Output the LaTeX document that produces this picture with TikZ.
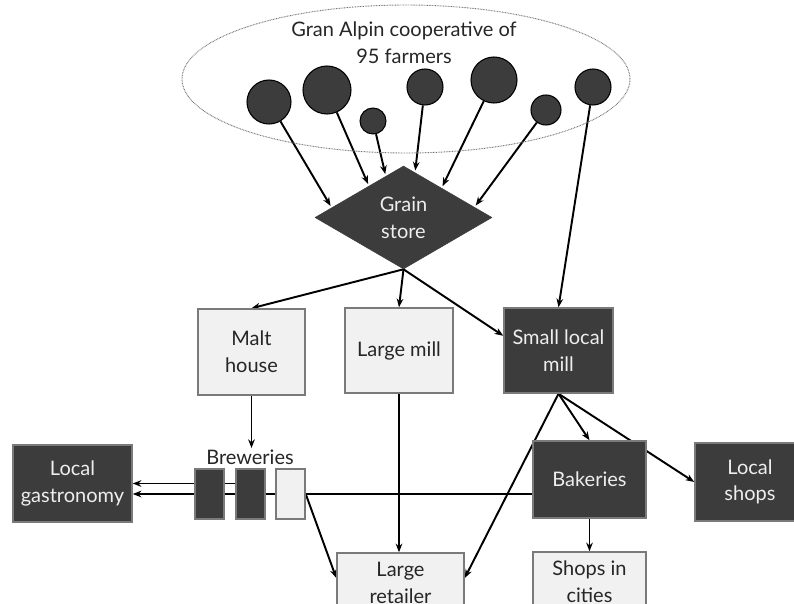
\documentclass[tikz,border=0pt]{standalone}
\usepackage{fontspec}
\setmainfont{Lato}
\usetikzlibrary{shapes.geometric,arrows.meta,calc,backgrounds}
\definecolor{darkfill}{HTML}{3C3C3C}
\definecolor{lightfill}{HTML}{F1F1F1}
\definecolor{edgegray}{HTML}{7A7A7A}
\definecolor{darktext}{HTML}{EEEEEE}
\begin{document}
\begin{tikzpicture}[x=0.75pt,y=-0.75pt,
  font=\fontsize{15}{20}\selectfont,
  box/.style={rectangle, draw=edgegray, line width=1.1pt, align=center, inner sep=2pt},
  lightbox/.style={box, fill=lightfill, text=black!85},
  darkbox/.style={box, fill=darkfill, text=darktext},
  farmer/.style={circle, draw=black, line width=0.8pt, fill=darkfill, inner sep=0pt},
  flow/.style={line width=1.45pt, -{Stealth[length=6.5pt,width=5pt]}},
  brew/.style={minimum width=21.75pt, minimum height=37.5pt, inner sep=0pt}
]
\useasboundingbox (0,0) rectangle (794,604);

% cooperative
\node (coop) [ellipse, draw=black!55, dash pattern=on 0.6pt off 0.6pt, line width=0.7pt,
  minimum width=336pt, minimum height=111pt] at (406,79) {};
\node (cooplabel) [align=center, text=black!85] at (404,43) {Gran Alpin cooperative of\\95 farmers};

\node (c1) [farmer, minimum size=33pt] at (269,102) {};
\node (c2) [farmer, minimum size=36pt] at (327,90) {};
\node (c3) [farmer, minimum size=19.5pt] at (373,121) {};
\node (c4) [farmer, minimum size=27pt] at (425,87) {};
\node (c5) [farmer, minimum size=34.5pt] at (494,80) {};
\node (c6) [farmer, minimum size=22.5pt] at (546,110) {};
\node (c7) [farmer, minimum size=27pt] at (593,87) {};

\node (grain) [diamond, fill=darkfill, draw=darkfill, minimum width=132.75pt, minimum height=77.25pt,
  inner sep=0pt, text=darktext, align=center] at (403.5,217.5) {Grain\\store};

\node (malt) [lightbox, minimum width=80.25pt, minimum height=64.5pt] at (251.5,352) {Malt\\house};
\node (lmill) [lightbox, minimum width=81pt, minimum height=63.75pt] at (399,350.5) {Large mill};
\node (smill) [darkbox, minimum width=81.75pt, minimum height=63.75pt] at (558.5,350.5) {Small local\\mill};

\node (gastro) [darkbox, minimum width=89.25pt, minimum height=57.75pt] at (72.5,483.5) {Local\\gastronomy};
\node (brewlabel) [inner sep=1pt, text=black!85] at (250,457) {Breweries};
\node (brewA) [darkbox, brew] at (209.5,494) {};
\node (brewB) [darkbox, brew] at (250.5,494) {};
\node (brewC) [lightbox, brew] at (290.5,494) {};

\node (bakeries) [darkbox, minimum width=84.75pt, minimum height=57.75pt] at (589.5,479.5) {Bakeries};
\node (lshops) [darkbox, minimum width=82.5pt, minimum height=58.5pt] at (750,482) {Local\\shops};

\node (retailer) [lightbox, minimum width=95.25pt, minimum height=45pt] at (400.5,583) {Large\\retailer};
\node (cities) [lightbox, minimum width=84.75pt, minimum height=45pt] at (589.5,582) {Shops in\\cities};

\begin{pgfonlayer}{background}
\draw[flow, shorten >=1.5pt] (c1) -- ($(grain.west)!0.19!(grain.north)$);
\draw[flow, shorten >=1.5pt] (c2) -- ($(grain.west)!0.61!(grain.north)$);
\draw[flow, shorten >=1.5pt] (c3) -- ($(grain.west)!0.80!(grain.north)$);
\draw[flow, shorten >=1.5pt] (c4) -- ($(grain.north)!0.13!(grain.east)$);
\draw[flow, shorten >=1.5pt] (c5) -- ($(grain.north)!0.43!(grain.east)$);
\draw[flow, shorten >=1.5pt] (c6) -- ($(grain.north)!0.80!(grain.east)$);
\draw[flow] (c7) -- (smill.north);

\draw[flow] (grain.south) -- (malt.north);
\draw[flow] (grain.south) -- (lmill.north);
\draw[flow] (grain.south) -- ($(smill.north west)!0.33!(smill.south west)$);

\draw[flow] (malt.south) -- (malt.south |- brewlabel.north);
\draw[flow] (brewB.west |- gastro.east) -- (gastro.east);
\draw[flow] (bakeries.west |- brewA.center) -- (gastro.east |- brewA.center);
\draw[flow] (brewC.east) -- ($(retailer.west)+(0,-5)$);

\draw[flow] (lmill.south) -- (lmill.south |- retailer.north);
\draw[flow] (smill.south) -- ($(retailer.east)+(0,-5)$);
\draw[flow] (smill.south) -- (bakeries.north);
\draw[flow] (smill.south) -- (lshops.west);
\draw[flow] (bakeries.south) -- (cities.north);
\end{pgfonlayer}
\end{tikzpicture}
\end{document}
